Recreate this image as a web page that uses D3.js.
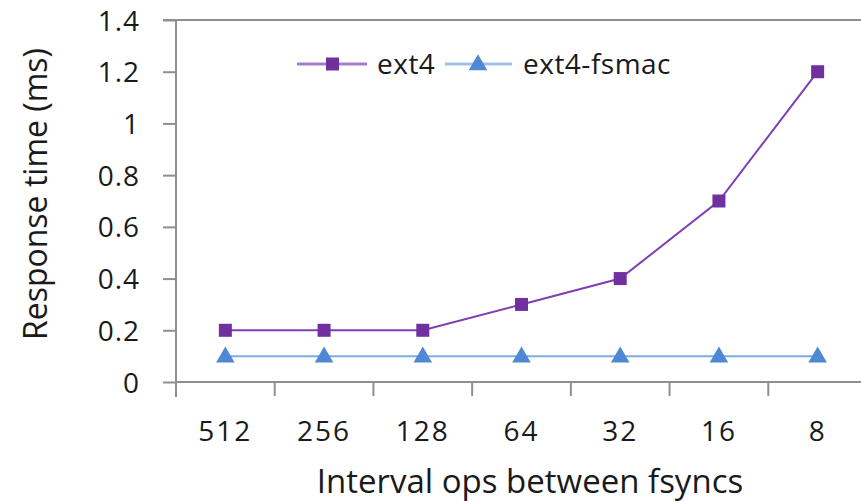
<!DOCTYPE html>
<html>
<head>
<meta charset="utf-8">
<script src="https://cdn.jsdelivr.net/npm/d3@7"></script>
<style>
  body { margin: 0; background: #fff; }
  svg text { font-family: "Open Sans", "Noto Sans", sans-serif; fill: #1a1a1a; }
</style>
</head>
<body>
<svg id="chart" width="861" height="502"></svg>
<script>
// data
var categories = ["512", "256", "128", "64", "32", "16", "8"];
var ext4 = [0.2, 0.2, 0.2, 0.3, 0.4, 0.7, 1.2];
var fsmac = [0.1, 0.1, 0.1, 0.1, 0.1, 0.1, 0.1];
var yTicks = [0, 0.2, 0.4, 0.6, 0.8, 1, 1.2, 1.4];
var seriesNames = ["ext4", "ext4-fsmac"];

var svg = d3.select("#chart");

var plotLeft = 176, plotRight = 867, plotTop = 20, plotBottom = 382;

var x = d3.scaleBand().domain(categories).range([plotLeft, plotRight]);
var y = d3.scaleLinear().domain([0, 1.4]).range([plotBottom, plotTop]);
var cx = d => x(d) + x.bandwidth() / 2;

var axisColor = "#8f8f8f";

// top border line at 1.4
svg.append("line")
  .attr("x1", plotLeft - 13).attr("x2", 861)
  .attr("y1", y(1.4)).attr("y2", y(1.4))
  .attr("stroke", axisColor).attr("stroke-width", 2);

// y axis
var yAxis = svg.append("g")
  .attr("transform", "translate(" + plotLeft + ",0)")
  .call(d3.axisLeft(y).tickValues(yTicks).tickSize(13).tickPadding(23)
    .tickFormat(d => d3.format("~g")(d)));
yAxis.select(".domain").remove();
yAxis.selectAll(".tick line").attr("stroke", axisColor).attr("stroke-width", 2);
yAxis.selectAll("text").attr("font-size", 28).attr("fill", "#1a1a1a")
  .attr("letter-spacing", 1).attr("dy", "0.36em");
svg.append("line")
  .attr("x1", plotLeft).attr("x2", plotLeft)
  .attr("y1", plotTop).attr("y2", plotBottom + 15)
  .attr("stroke", axisColor).attr("stroke-width", 2);

// x axis
svg.append("line")
  .attr("x1", plotLeft).attr("x2", 861)
  .attr("y1", plotBottom).attr("y2", plotBottom)
  .attr("stroke", axisColor).attr("stroke-width", 2);
svg.append("g").selectAll("line")
  .data(categories.slice(1))
  .join("line")
  .attr("x1", d => x(d)).attr("x2", d => x(d))
  .attr("y1", plotBottom).attr("y2", plotBottom + 14)
  .attr("stroke", axisColor).attr("stroke-width", 2);

var xAxis = svg.append("g")
  .attr("transform", "translate(0," + plotBottom + ")")
  .call(d3.axisBottom(x).tickSize(0).tickPadding(0));
xAxis.select(".domain").remove();
xAxis.selectAll("text")
  .attr("font-size", 28).attr("fill", "#1a1a1a")
  .attr("letter-spacing", 2)
  .attr("y", 59).attr("dy", 0);

// axis titles
svg.append("text")
  .attr("x", 530).attr("y", 493)
  .attr("text-anchor", "middle")
  .attr("font-size", 33)
  .text("Interval ops between fsyncs");

svg.append("text")
  .attr("transform", "translate(47,194) rotate(-90)")
  .attr("text-anchor", "middle")
  .attr("font-size", 32)
  .text("Response time (ms)");

// series
var line = d3.line().x((d, i) => cx(categories[i])).y(d => y(d));

svg.append("path").datum(fsmac)
  .attr("d", line).attr("fill", "none")
  .attr("stroke", "#7fabe3").attr("stroke-width", 2);
svg.append("path").datum(ext4)
  .attr("d", line).attr("fill", "none")
  .attr("stroke", "#7d3fb3").attr("stroke-width", 2);

var tri = d3.symbol().type(d3.symbolTriangle).size(150);

svg.append("g").selectAll("path")
  .data(fsmac)
  .join("path")
  .attr("d", tri)
  .attr("transform", (d, i) => "translate(" + cx(categories[i]) + "," + (y(d) + 1) + ")")
  .attr("fill", "#4f88d4");

svg.append("g").selectAll("rect")
  .data(ext4)
  .join("rect")
  .attr("x", (d, i) => cx(categories[i]) - 6.5)
  .attr("y", d => y(d) - 6.5)
  .attr("width", 13).attr("height", 13)
  .attr("fill", "#7030a0");

// legend
var ly = 64;
var legend = svg.append("g");
legend.append("line")
  .attr("x1", 297).attr("x2", 367).attr("y1", ly).attr("y2", ly)
  .attr("stroke", "#a77cc9").attr("stroke-width", 3);
legend.append("rect")
  .attr("x", 326).attr("y", ly - 6.5).attr("width", 13).attr("height", 13)
  .attr("fill", "#7030a0");
legend.append("text")
  .attr("x", 377).attr("y", ly + 10)
  .attr("font-size", 28).attr("letter-spacing", 0.5)
  .text(seriesNames[0]);

legend.append("line")
  .attr("x1", 445).attr("x2", 512).attr("y1", ly).attr("y2", ly)
  .attr("stroke", "#9fc0ea").attr("stroke-width", 3);
legend.append("path")
  .attr("d", tri)
  .attr("transform", "translate(478," + (ly + 1) + ")")
  .attr("fill", "#4f88d4");
legend.append("text")
  .attr("x", 523).attr("y", ly + 10)
  .attr("font-size", 28).attr("letter-spacing", 0.5)
  .text(seriesNames[1]);
</script>
</body>
</html>
